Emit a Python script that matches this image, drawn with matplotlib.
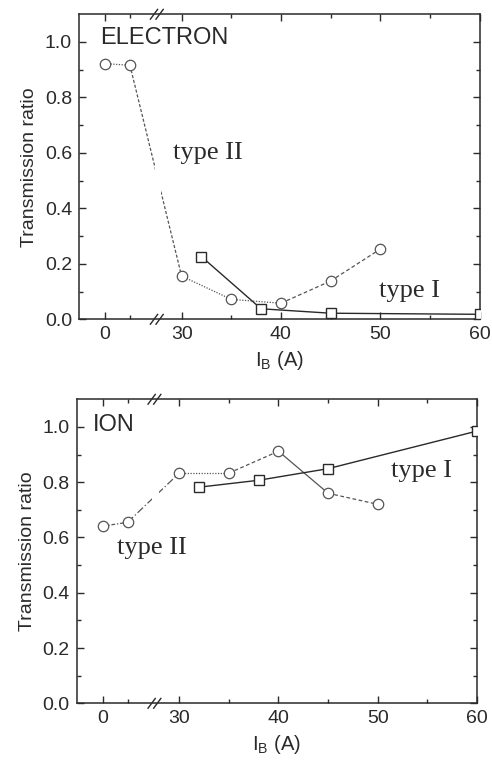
import numpy as np
import matplotlib
matplotlib.use("Agg")
import matplotlib.pyplot as plt

# ---------------- data ----------------
e_circ_x = [0, 5, 30, 35, 40, 45, 50]
e_circ_y = [0.922, 0.916, 0.156, 0.072, 0.058, 0.138, 0.253]
e_sq_x = [32, 38, 45, 60]
e_sq_y = [0.226, 0.038, 0.022, 0.018]

i_circ_x = [0, 5, 30, 35, 40, 45, 50]
i_circ_y = [0.641, 0.655, 0.833, 0.833, 0.912, 0.760, 0.720]
i_sq_x = [32, 38, 45, 60]
i_sq_y = [0.782, 0.807, 0.849, 0.985]

xticks_major = [0, 30, 40, 50, 60]
xticks_minor = [5, 35, 45, 55]
yticks_major = [0.0, 0.2, 0.4, 0.6, 0.8, 1.0]

# per-segment line styles of the circle series (as in the scanned figure)
e_seg_styles = [(0, (1, 1.2)), (0, (2.5, 1.5)), (0, (1, 1.2)), (0, (1, 1.2)),
                (0, (3, 2)), (0, (3, 2))]
i_seg_styles = [(0, (3, 1.5, 1, 1.5)), (0, (6, 2, 1, 2)), (0, (1, 1.2)),
                (0, (3, 2)), '-', (0, (3, 2))]

# broken-axis scale: left segment compressed, right segment linear
def fwd(x):
    x = np.asarray(x, dtype=float)
    return np.where(x <= 10, 22.3 + 0.5 * x,
                    np.where(x < 30, 27.3 + (x - 10) * (2.7 / 20.0), x))

def inv(p):
    p = np.asarray(p, dtype=float)
    return np.where(p <= 27.3, (p - 22.3) / 0.5,
                    np.where(p < 30, 10 + (p - 27.3) * (20.0 / 2.7), p))

INK = '#2a2a2a'
LINE_C = '#555555'

plt.rcParams['font.family'] = ['Liberation Sans', 'DejaVu Sans']

fig = plt.figure(figsize=(4.92, 7.63), dpi=100)
ax1 = fig.add_axes([0.1606, 0.5815, 0.814, 0.3998])
ax2 = fig.add_axes([0.1559, 0.0782, 0.8136, 0.3985])


def setup(ax, cx, cy, sx, sy, seg_styles):
    ax.set_xscale('function', functions=(fwd, inv))
    ax.set_xlim(-5.26, 60)
    ax.set_ylim(0, 1.1)
    # circle series, segment by segment
    for k in range(len(cx) - 1):
        ax.plot(cx[k:k + 2], cy[k:k + 2], ls=seg_styles[k], color=LINE_C,
                lw=0.9, zorder=2)
    ax.plot(cx, cy, ls='none', marker='o', ms=7.5, mfc='white',
            mec=LINE_C, mew=0.9, zorder=3)
    # square series
    ax.plot(sx, sy, ls='-', color=INK, lw=1.0, marker='s', ms=7,
            mfc='white', mec=INK, mew=1.0, zorder=3)
    # gap of the axis break
    ax.axvspan(10, 15, color='white', zorder=2.2, lw=0)
    # break marks
    xb = float(ax.transAxes.inverted().transform(
        ax.transData.transform((11.5, 0)))[0])
    for yb in (0.0, 1.0):
        for dx in (-0.007, 0.007):
            ax.plot([xb + dx - 0.009, xb + dx + 0.009], [yb - 0.016, yb + 0.016],
                    transform=ax.transAxes, color=INK, lw=1.0,
                    clip_on=False, zorder=5)
    ax.set_xticks(xticks_major)
    ax.set_xticks(xticks_minor, minor=True)
    ax.set_xticklabels([str(v) for v in xticks_major])
    ax.set_yticks(yticks_major)
    ax.set_yticks(np.arange(0.1, 1.1, 0.2), minor=True)
    ax.set_yticklabels(['%.1f' % v for v in yticks_major])
    ax.tick_params(which='both', direction='in', top=True, right=True,
                   colors=INK, labelsize=14, width=1.0)
    ax.tick_params(which='major', length=5, pad=5)
    ax.tick_params(which='minor', length=2.8)
    for s in ax.spines.values():
        s.set_linewidth(1.1)
        s.set_color(INK)
    ax.set_ylabel('Transmission ratio', fontsize=14, color=INK, labelpad=5)
    ax.set_xlabel(r'$\mathregular{I_B}$ (A)', fontsize=14.5, color=INK,
                  labelpad=4)


setup(ax1, e_circ_x, e_circ_y, e_sq_x, e_sq_y, e_seg_styles)
setup(ax2, i_circ_x, i_circ_y, i_sq_x, i_sq_y, i_seg_styles)

serif = ['Liberation Serif', 'DejaVu Serif']
ax1.text(0.052, 0.922, 'ELECTRON', transform=ax1.transAxes, fontsize=17,
         color=INK, va='center', ha='left')
ax1.text(0.235, 0.545, 'type II', transform=ax1.transAxes, fontsize=19,
         family=serif, color=INK, va='center', ha='left')
ax1.text(0.75, 0.094, 'type I', transform=ax1.transAxes, fontsize=19,
         family=serif, color=INK, va='center', ha='left')

ax2.text(0.04, 0.915, 'ION', transform=ax2.transAxes, fontsize=17,
         color=INK, va='center', ha='left')
ax2.text(0.10, 0.51, 'type II', transform=ax2.transAxes, fontsize=19,
         family=serif, color=INK, va='center', ha='left')
ax2.text(0.785, 0.765, 'type I', transform=ax2.transAxes, fontsize=19,
         family=serif, color=INK, va='center', ha='left')

fig.savefig('out.png', dpi=100, facecolor='white')
